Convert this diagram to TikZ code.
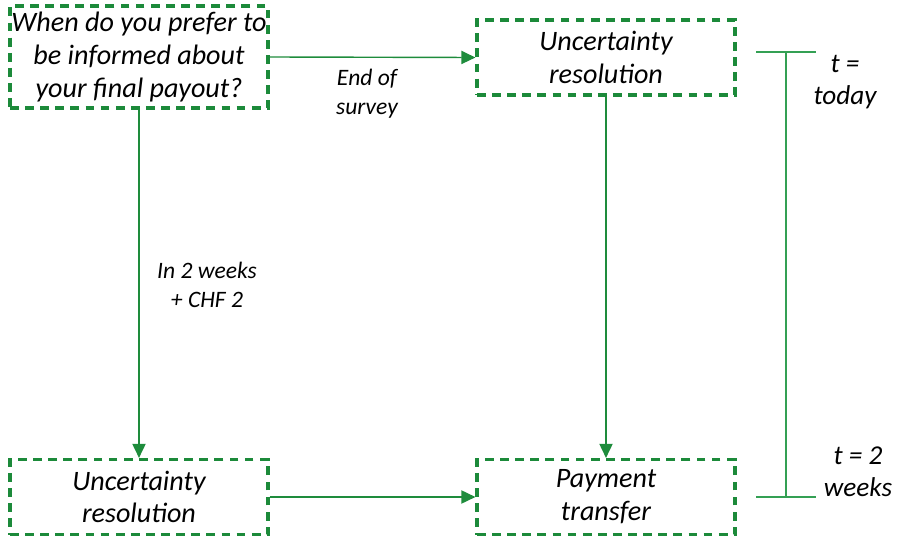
\documentclass[tikz,border=0pt]{standalone}
\usepackage{fontspec}
\setmainfont{Carlito}
\usetikzlibrary{arrows.meta}
\definecolor{boxgreen}{RGB}{28,138,58}
\definecolor{arrowgreen}{RGB}{30,140,60}
\definecolor{linegreen}{RGB}{52,160,84}
\tikzset{
  stagebox/.style={draw=boxgreen, line width=1.8pt, dash pattern=on 5pt off 3.6pt,
    minimum width=258*0.02cm, minimum height=75*0.02cm, inner sep=0pt,
    align=center, font=\itshape\fontsize{16}{18.7}\selectfont},
  flow/.style={draw=arrowgreen, line width=0.8pt, -{Triangle[length=8pt,width=7.5pt]}},
  note/.style={align=center, font=\itshape\fontsize{13.4}{16.5}\selectfont},
  timenote/.style={align=center, font=\itshape\fontsize{15.5}{18}\selectfont}
}
\begin{document}
\begin{tikzpicture}[x=0.02cm,y=-0.02cm]
\useasboundingbox (0,0) rectangle (897,537);
% stages
\node[stagebox, minimum height=102*0.02cm] (question) at (139,57) {When do you prefer to\\be informed about\\your final payout?};
\node[stagebox] (resnow) at (606,57.5) {Uncertainty\\resolution};
\node[stagebox] (reslater) at (139,497) {Uncertainty\\resolution};
\node[stagebox] (payment) at (606,497) {Payment\\transfer};
% connectors
\draw[flow] (question.east) -- (resnow.west);
\draw[flow] (question.south) -- (reslater.north);
\draw[flow] (resnow.south) -- (payment.north);
\draw[flow] (reslater.east) -- (payment.west);
\node[note] (lblsurvey) at (367,94) {End of\\survey};
\node[note] (lbllater) at (207,285) {In 2 weeks\\+ CHF 2};
% time line
\coordinate (ttop) at (786,52);
\coordinate (tbot) at (786,497);
\draw[linegreen, line width=0.8pt] (ttop) -- (tbot);
\draw[linegreen, line width=1.3pt] ([xshift=-30*0.02cm]ttop) -- ([xshift=30*0.02cm]ttop);
\draw[linegreen, line width=1.3pt] ([xshift=-30*0.02cm]tbot) -- ([xshift=30*0.02cm]tbot);
\node[timenote] (tnow) at (845,82) {t =\\today};
\node[timenote] (tlater) at (858,472) {t = 2\\weeks};
\end{tikzpicture}
\end{document}
